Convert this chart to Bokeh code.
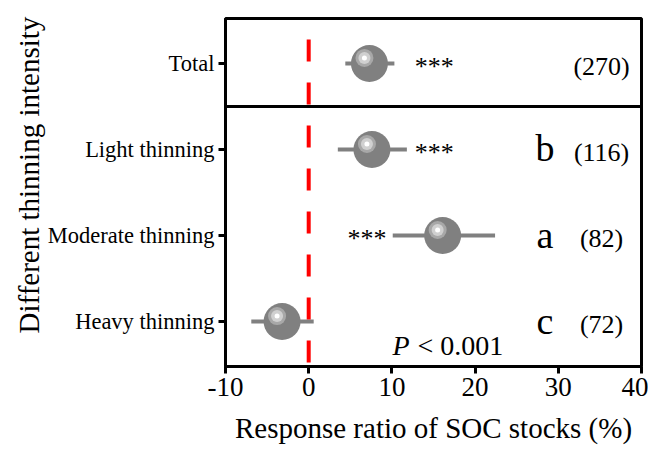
from bokeh.plotting import figure
from bokeh.models import Range1d, FixedTicker, Span, Title, ColumnDataSource
from bokeh.core.properties import value
from bokeh.embed import file_html
from bokeh.resources import INLINE

# ---- data ----
categories = ["Heavy thinning", "Moderate thinning", "Light thinning", "Total"]
means = [-3.2, 16.1, 7.6, 7.3]
lower = [-6.9, 10.1, 3.5, 4.4]
upper = [0.6, 22.4, 11.8, 10.3]
letters = ["c", "a", "b", ""]
counts = ["(72)", "(82)", "(116)", "(270)"]
stars = ["", "***", "***", "***"]
star_x = [0.0, 7.0, 15.1, 15.1]
x_ticks = [-10, 0, 10, 20, 30, 40]
x_tick_labels = ["-10", "0", "10", "20", "30", "40"]

FONT = "Liberation Serif"
X_MIN, X_MAX = -10, 40
Y_MIN, Y_MAX = 0.477, 4.523
FRAME_W, FRAME_H = 416, 348

ypos = list(range(1, len(categories) + 1))
px_x = (X_MAX - X_MIN) / FRAME_W
px_y = (Y_MAX - Y_MIN) / FRAME_H

p = figure(width=648, height=452, output_backend="svg", toolbar_location=None,
           x_range=Range1d(X_MIN, X_MAX), y_range=Range1d(Y_MIN, Y_MAX),
           min_border_left=225, min_border_right=7, min_border_top=18, min_border_bottom=86)
p.xgrid.visible = False
p.ygrid.visible = False
p.outline_line_color = "black"
p.outline_line_width = 3
p.outline_line_alpha = 1
p.background_fill_color = "white"
p.border_fill_color = "white"

src = ColumnDataSource(dict(y=ypos, m=means, lo=lower, hi=upper, let=letters, cnt=counts,
                            st=stars, sx=star_x,
                            hx=[m - 5 * px_x for m in means],
                            hy=[y + 5.5 * px_y for y in ypos]))

# reference line at 0
p.add_layout(Span(location=0, dimension="height", line_color="#ff0000", line_width=4,
                  line_dash="22 21", line_dash_offset=22))
# separator between Total and groups
p.add_layout(Span(location=3.5, dimension="width", line_color="black", line_width=3))

# error bars
p.segment(x0="lo", x1="hi", y0="y", y1="y", source=src, line_color="#808080", line_width=4)
# points with highlight
p.scatter(x="m", y="y", source=src, size=37, fill_color="#808080", line_color=None)
p.scatter(x="hx", y="hy", source=src, size=18, fill_color="#a8a8a8", line_color=None)
p.scatter(x="hx", y="hy", source=src, size=12, fill_color="#d0d0d0", line_color=None)
p.scatter(x="hx", y="hy", source=src, size=5, fill_color="white", line_color=None)

# annotations
p.text(x="sx", y="y", text="st", source=src, text_font=value(FONT), text_font_size="26px",
       text_align="center", text_baseline="alphabetic", y_offset=3, text_color="black")
p.text(x=28.4, y="y", text="let", source=src, text_font=value(FONT), text_font_size="38px",
       text_align="center", text_baseline="alphabetic", y_offset=-1, text_color="black")
p.text(x=35.2, y="y", text="cnt", source=src, text_font=value(FONT), text_font_size="26px",
       text_align="center", text_baseline="alphabetic", y_offset=3, text_color="black")

# P < 0.001
p_y = Y_MIN + 21 * px_y
p.text(x=[10.07], y=[p_y], text=["P"], text_font=value(FONT), text_font_size="28px",
       text_font_style="italic", text_baseline="middle", text_align="left", text_color="black")
p.text(x=[13.08], y=[p_y], text=["< 0.001"], text_font=value(FONT), text_font_size="28px",
       text_baseline="middle", text_align="left", text_color="black")

# y axis title (placed slightly above the frame centre, as in the original)
p.add_layout(Title(text="Different thinning intensity", align="left", offset=33,
                   text_font=FONT, text_font_size="29px", text_font_style="normal",
                   text_color="black", standoff=0), "left")

# axes
p.xaxis.ticker = FixedTicker(ticks=x_ticks)
p.xaxis.major_label_overrides = {t: s for t, s in zip(x_ticks, x_tick_labels)}
p.xaxis.axis_label = "Response ratio of SOC stocks (%)"
p.yaxis.ticker = FixedTicker(ticks=ypos)
p.yaxis.major_label_overrides = {y: c for y, c in zip(ypos, categories)}

for ax in (p.xaxis[0], p.yaxis[0]):
    ax.axis_line_width = 3
    ax.axis_line_color = "black"
    ax.major_tick_line_width = 3
    ax.major_tick_line_color = "black"
    ax.major_tick_in = 0
    ax.major_tick_out = 7
    ax.minor_tick_line_color = None
    ax.axis_label_text_font = FONT
    ax.axis_label_text_font_style = "normal"
    ax.axis_label_text_font_size = "29px"
    ax.axis_label_text_color = "black"
    ax.major_label_text_font = FONT
    ax.major_label_text_color = "black"

p.xaxis.major_label_text_font_size = "27px"
p.xaxis.major_label_standoff = 4
p.xaxis.axis_label_standoff = 13
p.yaxis.major_label_text_font_size = "22.5px"
p.yaxis.major_label_standoff = 4

open("out.html", "w").write(file_html(p, INLINE))
